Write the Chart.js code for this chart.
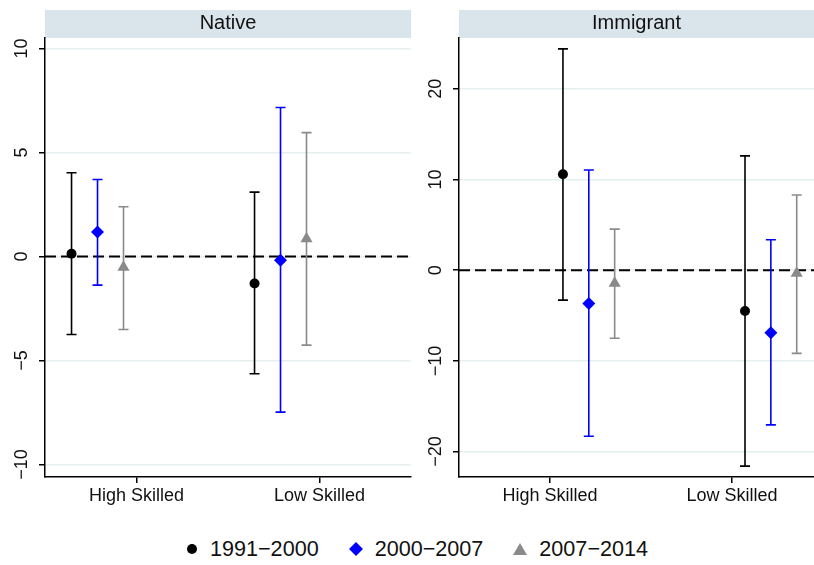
<!DOCTYPE html>
<html>
<head>
<meta charset="utf-8">
<script src="https://cdn.jsdelivr.net/npm/chart.js@4.4.1/dist/chart.umd.min.js"></script>
<style>
    body { margin: 0; background: #fff; width: 814px; height: 565px; position: relative; overflow: hidden; font-family: "Liberation Sans", Arial, sans-serif; }
    .panel { position: absolute; top: 0; height: 510px; }
    #nativeWrap { left: 0; width: 414px; }
    #immWrap { left: 414px; width: 400px; }
    .legend { position: absolute; top: 535px; left: 10px; width: 814px; display: flex; justify-content: center; align-items: center; font-size: 21.6px; line-height: 28px; color: #111; }
    .legend .item { display: flex; align-items: center; margin: 0 15px; }
    .legend svg { margin-right: 12px; }
</style>
</head>
<body>
<div class="panel" id="nativeWrap"><canvas id="nativeChart"></canvas></div>
<div class="panel" id="immWrap"><canvas id="immChart"></canvas></div>
<div class="legend" id="legend"></div>

<script>
const categories = ['High Skilled', 'Low Skilled'];
const seriesLabels = ['1991\u22122000', '2000\u22122007', '2007\u22122014'];
const seriesColors = ['#000000', '#0000ff', '#8a8a8a'];
const seriesShapes = ['circle', 'rectRot', 'triangle'];
const seriesRadius = [5, 6.5, 7];

// Native panel: estimate, lower bound, upper bound per series
const nativeEst = [[0.13, -1.30], [1.17, -0.18], [-0.52, 0.85]];
const nativeLo = [[-3.75, -5.64], [-1.38, -7.48], [-3.51, -4.26]];
const nativeHi = [[4.02, 3.09], [3.70, 7.16], [2.39, 5.95]];
const nativeTicks = [-10, -5, 0, 5, 10];
const nativeTickLabels = ['\u221210', '\u22125', '0', '5', '10'];

// Immigrant panel
const immEst = [[10.57, -4.5], [-3.68, -6.9], [-1.45, -0.35]];
const immLo = [[-3.3, -21.6], [-18.3, -17.05], [-7.5, -9.17]];
const immHi = [[24.4, 12.6], [11.05, 3.35], [4.53, 8.29]];
const immTicks = [-20, -10, 0, 10, 20];
const immTickLabels = ['\u221220', '\u221210', '0', '10', '20'];

const FONT = '"Liberation Sans", Arial, sans-serif';

const panelDecor = {
    id: 'panelDecor',
    beforeDraw(chart, args, opts) {
        const ctx = chart.ctx;
        const area = chart.chartArea;
        ctx.save();
        ctx.fillStyle = '#d9e5eb';
        ctx.fillRect(area.left, 10, area.right - area.left, 28);
        ctx.fillStyle = '#111';
        ctx.font = '20px ' + FONT;
        ctx.textAlign = 'center';
        ctx.textBaseline = 'alphabetic';
        ctx.fillText(opts.title, (area.left + area.right) / 2, 29);
        ctx.restore();
    },
    afterDraw(chart, args, opts) {
        // rotated y tick labels
        const ctx = chart.ctx;
        const y = chart.scales.y;
        ctx.save();
        ctx.fillStyle = '#111';
        ctx.font = '18px ' + FONT;
        ctx.textAlign = 'center';
        ctx.textBaseline = 'alphabetic';
        opts.ticks.forEach((t, i) => {
            ctx.save();
            ctx.translate(chart.chartArea.left - 18, y.getPixelForValue(t));
            ctx.rotate(-Math.PI / 2);
            ctx.fillText(opts.tickLabels[i], 0, 0);
            ctx.restore();
        });
        ctx.restore();
    },
    beforeDatasetsDraw(chart) {
        const ctx = chart.ctx;
        const area = chart.chartArea;
        const y0 = chart.scales.y.getPixelForValue(0);
        ctx.save();
        ctx.strokeStyle = '#000';
        ctx.lineWidth = 2;
        ctx.setLineDash([11, 5]);
        ctx.beginPath();
        ctx.moveTo(area.left, y0);
        ctx.lineTo(area.right, y0);
        ctx.stroke();
        ctx.setLineDash([]);

        // error bars
        chart.data.datasets.forEach((ds, di) => {
            const meta = chart.getDatasetMeta(di);
            ctx.strokeStyle = ds.borderColor;
            ctx.lineWidth = 1.6;
            meta.data.forEach((pt, i) => {
                const yLo = chart.scales.y.getPixelForValue(ds.lo[i]);
                const yHi = chart.scales.y.getPixelForValue(ds.hi[i]);
                ctx.beginPath();
                ctx.moveTo(pt.x, yLo);
                ctx.lineTo(pt.x, yHi);
                ctx.moveTo(pt.x - 5, yLo);
                ctx.lineTo(pt.x + 5, yLo);
                ctx.moveTo(pt.x - 5, yHi);
                ctx.lineTo(pt.x + 5, yHi);
                ctx.stroke();
            });
        });
        ctx.restore();
    }
};

function makePanel(canvasId, title, est, lo, hi, offsets, yMin, yMax, ticks, tickLabels, xMax, padRight) {
    const datasets = seriesLabels.map((label, s) => ({
        label: label,
        data: categories.map((c, i) => ({ x: i + 1 + offsets[s], y: est[s][i] })),
        lo: lo[s],
        hi: hi[s],
        borderColor: seriesColors[s],
        backgroundColor: seriesColors[s],
        pointStyle: seriesShapes[s],
        pointRadius: seriesRadius[s],
        pointBorderWidth: 0,
        showLine: false
    }));

    return new Chart(document.getElementById(canvasId), {
        type: 'scatter',
        data: { datasets: datasets },
        plugins: [panelDecor],
        options: {
            responsive: true,
            maintainAspectRatio: false,
            animation: false,
            layout: { autoPadding: false, padding: { top: 38, right: padRight, left: 0, bottom: 0 } },
            plugins: {
                legend: { display: false },
                tooltip: { enabled: false },
                panelDecor: { title: title, ticks: ticks, tickLabels: tickLabels }
            },
            scales: {
                x: {
                    type: 'linear',
                    min: 0.5,
                    max: xMax,
                    afterBuildTicks: (scale) => {
                        scale.ticks = categories.map((c, i) => ({ value: i + 1 }));
                    },
                    afterFit: (scale) => { scale.height = 33; },
                    ticks: {
                        callback: (v) => categories[Math.round(v) - 1],
                        color: '#111',
                        font: { family: FONT, size: 18 },
                        padding: 2,
                        maxRotation: 0
                    },
                    grid: { drawOnChartArea: false, color: '#000', tickLength: 6, lineWidth: 1.5 },
                    border: { color: '#000', width: 1.5 }
                },
                y: {
                    min: yMin,
                    max: yMax,
                    afterBuildTicks: (scale) => {
                        scale.ticks = ticks.map(v => ({ value: v }));
                    },
                    afterFit: (scale) => { scale.width = 45; },
                    ticks: { display: false },
                    grid: { color: '#e6eef0', lineWidth: 1.5, tickColor: '#000', tickLength: 6 },
                    border: { color: '#000', width: 1.5 }
                }
            }
        }
    });
}

function buildLegend() {
    const shapes = [
        '<svg width="12" height="12"><circle cx="6" cy="6" r="5" fill="#000"/></svg>',
        '<svg width="14" height="14"><polygon points="7,0 14,7 7,14 0,7" fill="#0000ff"/></svg>',
        '<svg width="14" height="12"><polygon points="7,0 14,12 0,12" fill="#8a8a8a"/></svg>'
    ];
    const legend = document.getElementById('legend');
    seriesLabels.forEach((label, s) => {
        const item = document.createElement('div');
        item.className = 'item';
        item.innerHTML = shapes[s] + '<span>' + label + '</span>';
        legend.appendChild(item);
    });
}

document.addEventListener('DOMContentLoaded', function () {
    makePanel('nativeChart', 'Native', nativeEst, nativeLo, nativeHi,
        [-0.355, -0.213, -0.071], -10.6, 10.5, nativeTicks, nativeTickLabels, 2.5, 3);
    makePanel('immChart', 'Immigrant', immEst, immLo, immHi,
        [0.071, 0.213, 0.355], -22.8, 25.6, immTicks, immTickLabels, 2.45, 0);
    buildLegend();
});
</script>
</body>
</html>
